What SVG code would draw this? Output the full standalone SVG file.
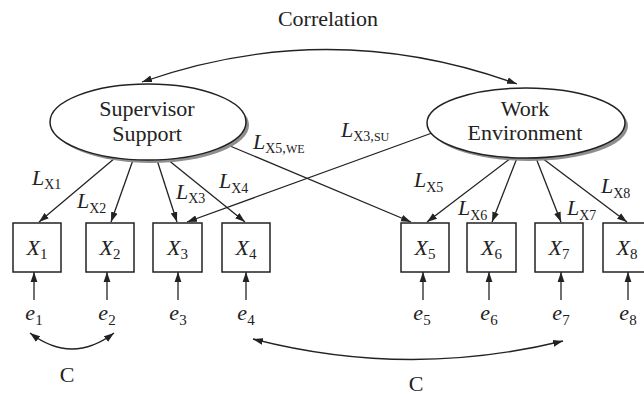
<svg xmlns="http://www.w3.org/2000/svg" width="644" height="398" viewBox="0 0 644 398">
<style>
text { font-family: "Liberation Serif", "Times New Roman", serif; fill: #222; }
.lat { font-size: 22px; text-anchor: middle; }
.it { font-size: 22px; font-style: italic; }
.mid { text-anchor: middle; }
.sub { font-size: 15px; font-style: normal; }
.lsub { font-size: 14px; font-style: normal; }
.sc { font-size: 12px; }
.box { fill: #fff; stroke: #222; stroke-width: 1.5; }
.ell { fill: #fff; stroke: #222; stroke-width: 1.5; }
.shadow { fill: #8e8e8e; }
.conn path { stroke: #222; stroke-width: 1.3; fill: none; }
.one { marker-end: url(#ah); }
.two { marker-start: url(#ah); marker-end: url(#ah); }
</style>
<defs>
<marker id="ah" markerUnits="userSpaceOnUse" markerWidth="11" markerHeight="8" refX="10" refY="4" orient="auto-start-reverse">
<path d="M0,0.6 L10,4 L0,7.4 z" fill="#222"/>
</marker>
</defs>

<text x="328" y="26" class="lat">Correlation</text>

<g id="connectors" class="conn">
<path class="two" d="M142,82 Q330,16 517,84"/>
<path class="one" d="M115,158 L39,222"/>
<path class="one" d="M133,160 L111,222"/>
<path class="one" d="M157,160 L177,222"/>
<path class="one" d="M167,159 L245,222"/>
<path class="one" d="M230,146 L411,222"/>
<path class="one" d="M432,133 L187,222"/>
<path class="one" d="M511,158 L427,222"/>
<path class="one" d="M517,158 L492,222"/>
<path class="one" d="M536,158 L561,222"/>
<path class="one" d="M542,158 L627,222"/>
<path class="one" d="M34,300 L34,272"/>
<path class="one" d="M107,300 L107,272"/>
<path class="one" d="M178,300 L178,272"/>
<path class="one" d="M246,300 L246,272"/>
<path class="one" d="M423,300 L423,272"/>
<path class="one" d="M489,300 L489,272"/>
<path class="one" d="M561,300 L561,272"/>
<path class="one" d="M628,300 L628,272"/>
<path class="two" d="M30,333 Q72,365 114,333"/>
<path class="two" d="M253,339 Q408,379 563,341"/>
</g>

<g id="loading-labels">
<text x="32" y="185" class="it">L<tspan class="lsub" dy="4">X1</tspan></text>
<text x="77" y="208" class="it">L<tspan class="lsub" dy="5">X2</tspan></text>
<text x="176" y="199" class="it">L<tspan class="lsub" dy="4">X3</tspan></text>
<text x="219" y="188" class="it">L<tspan class="lsub" dy="5">X4</tspan></text>
<text x="253" y="149" class="it">L<tspan class="lsub" dy="4">X5,</tspan><tspan class="lsub sc">WE</tspan></text>
<text x="341" y="137" class="it">L<tspan class="lsub" dy="4">X3,</tspan><tspan class="lsub sc">SU</tspan></text>
<text x="414" y="187" class="it">L<tspan class="lsub" dy="5">X5</tspan></text>
<text x="458" y="215" class="it">L<tspan class="lsub" dy="5">X6</tspan></text>
<text x="567" y="215" class="it">L<tspan class="lsub" dy="5">X7</tspan></text>
<text x="601" y="193" class="it">L<tspan class="lsub" dy="5">X8</tspan></text>
</g>

<g id="supervisor-support">
<ellipse class="shadow" cx="151" cy="125" rx="98" ry="38"/>
<ellipse class="ell" cx="148" cy="122" rx="98" ry="38"/>
<text x="147" y="116" class="lat">Supervisor</text>
<text x="147" y="141" class="lat">Support</text>
</g>

<g id="work-environment">
<ellipse class="shadow" cx="529" cy="126" rx="99" ry="35"/>
<ellipse class="ell" cx="526" cy="123" rx="99" ry="35"/>
<text x="525" y="116" class="lat">Work</text>
<text x="525" y="140" class="lat">Environment</text>
</g>

<g id="X1"><rect class="box" x="13" y="223" width="48" height="49"/><text x="37" y="255" class="it mid">X<tspan class="sub" dy="4">1</tspan></text></g>
<g id="X2"><rect class="box" x="86" y="223" width="48" height="49"/><text x="110" y="255" class="it mid">X<tspan class="sub" dy="4">2</tspan></text></g>
<g id="X3"><rect class="box" x="153" y="223" width="49" height="49"/><text x="177.5" y="255" class="it mid">X<tspan class="sub" dy="4">3</tspan></text></g>
<g id="X4"><rect class="box" x="222" y="223" width="48" height="49"/><text x="246" y="255" class="it mid">X<tspan class="sub" dy="4">4</tspan></text></g>
<g id="X5"><rect class="box" x="401" y="223" width="48" height="49"/><text x="425" y="255" class="it mid">X<tspan class="sub" dy="4">5</tspan></text></g>
<g id="X6"><rect class="box" x="467" y="223" width="49" height="49"/><text x="491.5" y="255" class="it mid">X<tspan class="sub" dy="4">6</tspan></text></g>
<g id="X7"><rect class="box" x="535" y="223" width="48" height="49"/><text x="559" y="255" class="it mid">X<tspan class="sub" dy="4">7</tspan></text></g>
<g id="X8"><rect class="box" x="603" y="223" width="48" height="49"/><text x="627" y="255" class="it mid">X<tspan class="sub" dy="4">8</tspan></text></g>

<g id="e1"><text x="34" y="320" class="it mid">e<tspan class="sub" dy="5">1</tspan></text></g>
<g id="e2"><text x="107" y="320" class="it mid">e<tspan class="sub" dy="5">2</tspan></text></g>
<g id="e3"><text x="178" y="320" class="it mid">e<tspan class="sub" dy="5">3</tspan></text></g>
<g id="e4"><text x="246" y="320" class="it mid">e<tspan class="sub" dy="5">4</tspan></text></g>
<g id="e5"><text x="422" y="320" class="it mid">e<tspan class="sub" dy="5">5</tspan></text></g>
<g id="e6"><text x="489" y="320" class="it mid">e<tspan class="sub" dy="5">6</tspan></text></g>
<g id="e7"><text x="561" y="320" class="it mid">e<tspan class="sub" dy="5">7</tspan></text></g>
<g id="e8"><text x="628" y="320" class="it mid">e<tspan class="sub" dy="5">8</tspan></text></g>

<text x="67" y="382" class="lat">C</text>
<text x="416" y="391" class="lat">C</text>
</svg>
